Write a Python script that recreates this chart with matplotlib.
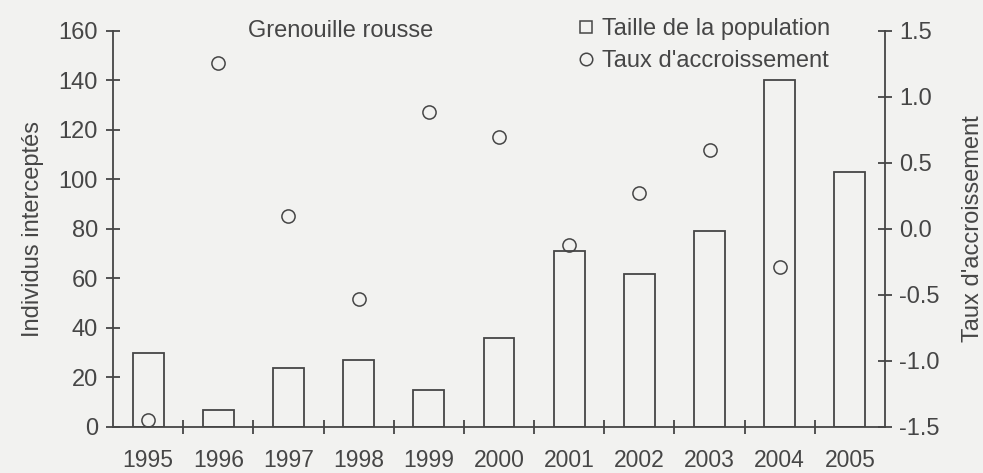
import matplotlib.pyplot as plt
from matplotlib.lines import Line2D

plt.rcParams['font.family'] = ['Liberation Sans', 'DejaVu Sans']

# Data
years = ['1995', '1996', '1997', '1998', '1999', '2000',
         '2001', '2002', '2003', '2004', '2005']
population = [30, 7, 24, 27, 15, 36, 71, 62, 79, 140, 103]
growth_years = years[:10]
growth_rate = [-1.45, 1.26, 0.10, -0.53, 0.89, 0.70, -0.12, 0.27, 0.60, -0.29]

ink = '#464646'
bg = '#f2f2f0'
fs = 17

fig = plt.figure(figsize=(9.83, 4.73), dpi=100, facecolor=bg)
ax = fig.add_axes([0.115, 0.0973, 0.7853, 0.8372])
ax.set_facecolor('none')

x = list(range(len(years)))
ax.bar(x, population, width=0.44, facecolor='none', edgecolor=ink, linewidth=1.3)

ax.set_xlim(-0.5, len(years) - 0.5)
ax.set_ylim(0, 160)
ax.set_yticks(range(0, 161, 20))
ax.set_xticks(x)
ax.set_xticklabels(years)
ax.set_xticks([i + 0.5 for i in x[:-1]], minor=True)
ax.tick_params(axis='x', which='major', length=0, pad=16, labelsize=16.5, colors=ink)
ax.tick_params(axis='x', which='minor', direction='inout', length=10, width=1.3, color=ink)
ax.tick_params(axis='y', direction='inout', length=10, width=1.3, pad=6, labelsize=fs, colors=ink)

for s in ['top', 'right']:
    ax.spines[s].set_visible(False)
for s in ['left', 'bottom']:
    ax.spines[s].set_color(ink)
    ax.spines[s].set_linewidth(1.3)

ax.set_ylabel('Individus interceptés', fontsize=fs, color=ink, labelpad=10)

ax2 = ax.twinx()
gx = [years.index(y) for y in growth_years]
ax2.plot(gx, growth_rate, linestyle='none', marker='o', markersize=9.5,
         markerfacecolor='none', markeredgecolor=ink, markeredgewidth=1.1)
ax2.set_ylim(-1.5, 1.5)
ax2.set_yticks([-1.5, -1.0, -0.5, 0.0, 0.5, 1.0, 1.5])
ax2.set_yticklabels(['-1.5', '-1.0', '-0.5', '0.0', '0.5', '1.0', '1.5'])
ax2.tick_params(axis='y', direction='inout', length=10, width=1.3, pad=5, labelsize=fs, colors=ink)
for s in ['top', 'left', 'bottom']:
    ax2.spines[s].set_visible(False)
ax2.spines['right'].set_color(ink)
ax2.spines['right'].set_linewidth(1.3)
ax2.set_ylabel("Taux d'accroissement", fontsize=fs, color=ink, labelpad=16)

ax.text(0.295, 1.0, 'Grenouille rousse', transform=ax.transAxes,
        ha='center', va='center', fontsize=fs, color=ink)

handles = [
    Line2D([], [], linestyle='none', marker='s', markersize=9,
           markerfacecolor='none', markeredgecolor=ink, markeredgewidth=1.1),
    Line2D([], [], linestyle='none', marker='o', markersize=9,
           markerfacecolor='none', markeredgecolor=ink, markeredgewidth=1.1),
]
leg = fig.legend(handles, ['Taille de la population', "Taux d'accroissement"],
                 loc='upper left', bbox_to_anchor=(0.572, 0.994), frameon=False,
                 fontsize=fs, handlelength=0.7, handletextpad=0.35,
                 labelspacing=0.42, borderaxespad=0.25)
for t in leg.get_texts():
    t.set_color(ink)

fig.savefig('out.png', dpi=100, facecolor=bg)
